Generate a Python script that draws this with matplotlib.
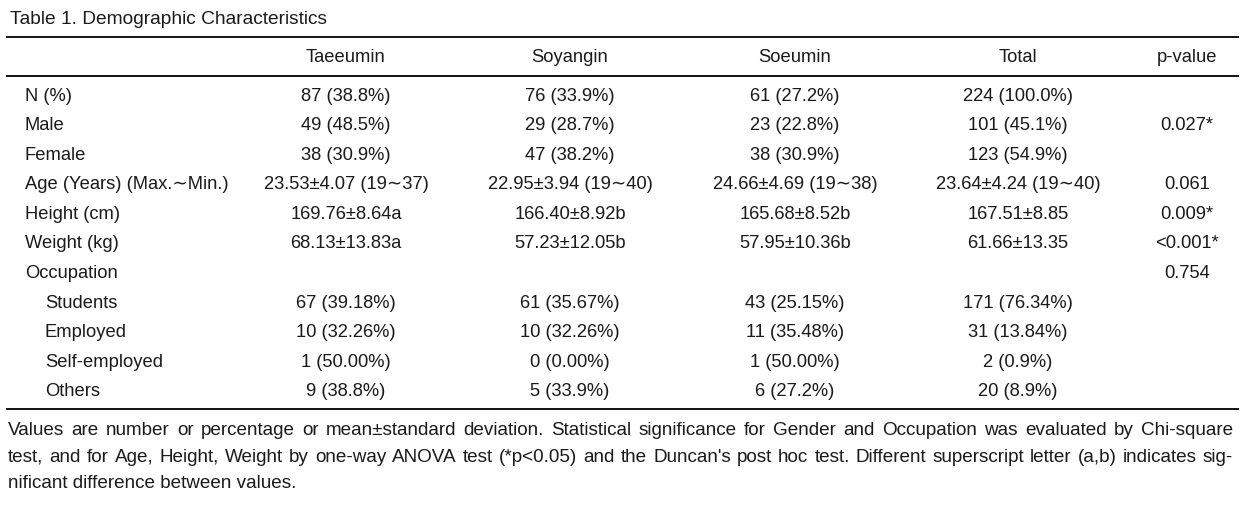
import matplotlib.pyplot as plt

# table content
title = "Table 1. Demographic Characteristics"
col_headers = ["Taeeumin", "Soyangin", "Soeumin", "Total", "p-value"]
row_labels = ["N (%)", "Male", "Female", "Age (Years) (Max.\u223cMin.)", "Height (cm)",
              "Weight (kg)", "Occupation", "Students", "Employed", "Self-employed", "Others"]
indented = [False] * 7 + [True] * 4

taeeumin = ["87 (38.8%)", "49 (48.5%)", "38 (30.9%)", "23.53\u00b14.07 (19\u223c37)",
            "169.76\u00b18.64a", "68.13\u00b113.83a", "",
            "67 (39.18%)", "10 (32.26%)", "1 (50.00%)", "9 (38.8%)"]
soyangin = ["76 (33.9%)", "29 (28.7%)", "47 (38.2%)", "22.95\u00b13.94 (19\u223c40)",
            "166.40\u00b18.92b", "57.23\u00b112.05b", "",
            "61 (35.67%)", "10 (32.26%)", "0 (0.00%)", "5 (33.9%)"]
soeumin = ["61 (27.2%)", "23 (22.8%)", "38 (30.9%)", "24.66\u00b14.69 (19\u223c38)",
           "165.68\u00b18.52b", "57.95\u00b110.36b", "",
           "43 (25.15%)", "11 (35.48%)", "1 (50.00%)", "6 (27.2%)"]
total = ["224 (100.0%)", "101 (45.1%)", "123 (54.9%)", "23.64\u00b14.24 (19\u223c40)",
         "167.51\u00b18.85", "61.66\u00b113.35", "",
         "171 (76.34%)", "31 (13.84%)", "2 (0.9%)", "20 (8.9%)"]
p_values = ["", "0.027*", "", "0.061", "0.009*", "<0.001*", "0.754", "", "", "", ""]

footnote = [
    "Values are number or percentage or mean\u00b1standard deviation. Statistical significance "
    "for Gender and Occupation was evaluated by Chi-square",
    "test, and for Age, Height, Weight by one-way ANOVA test (*p<0.05) and the Duncan's post hoc "
    "test. Different superscript letter (a,b) indicates sig-",
    "nificant difference between values.",
]

plt.rcParams['font.family'] = ['Liberation Sans', 'DejaVu Sans']
W, H = 1257, 506
fig = plt.figure(figsize=(W / 100, H / 100), dpi=100)
ax = fig.add_axes([0, 0, 1, 1])
ax.set_xlim(0, W)
ax.set_ylim(H, 0)
ax.axis('off')

fs = 13.2
txt_color = '#1a1a1a'

ax.text(10, 19, title, fontsize=13.8, va='center', ha='left', color=txt_color)

# rules
for y in (38, 77, 410):
    ax.plot([6, 1239], [y, y], color='black', lw=1.3, solid_capstyle='butt')

col_x = [346, 570, 795, 1018, 1187]
for x, h in zip(col_x, col_headers):
    ax.text(x, 57, h, fontsize=fs, ha='center', va='center', color=txt_color)

row_y0, row_dy = 96, 29.6
columns = [taeeumin, soyangin, soeumin, total, p_values]
for i, lab in enumerate(row_labels):
    y = row_y0 + i * row_dy
    ax.text(45 if indented[i] else 25, y, lab, fontsize=fs, ha='left', va='center',
            color=txt_color)
    for x, col in zip(col_x, columns):
        if col[i]:
            ax.text(x, y, col[i], fontsize=fs, ha='center', va='center', color=txt_color)

# justified footnote
renderer = fig.canvas.get_renderer()
left, right = 8, 1233
fs_note = 13.6
for j, line in enumerate(footnote):
    y = 431 + j * 26.5
    words = line.split(' ')
    if j == len(footnote) - 1:
        ax.text(left, y, line, fontsize=fs_note, ha='left', va='center', color=txt_color)
        continue
    widths = []
    arts = []
    for w in words:
        t = ax.text(0, y, w, fontsize=fs_note, ha='left', va='center', color=txt_color)
        widths.append(t.get_window_extent(renderer).width)
        arts.append(t)
    gap = (right - left - sum(widths)) / (len(words) - 1)
    x = left
    for t, wd in zip(arts, widths):
        t.set_x(x)
        x += wd + gap

fig.savefig('out.png', dpi=100)
